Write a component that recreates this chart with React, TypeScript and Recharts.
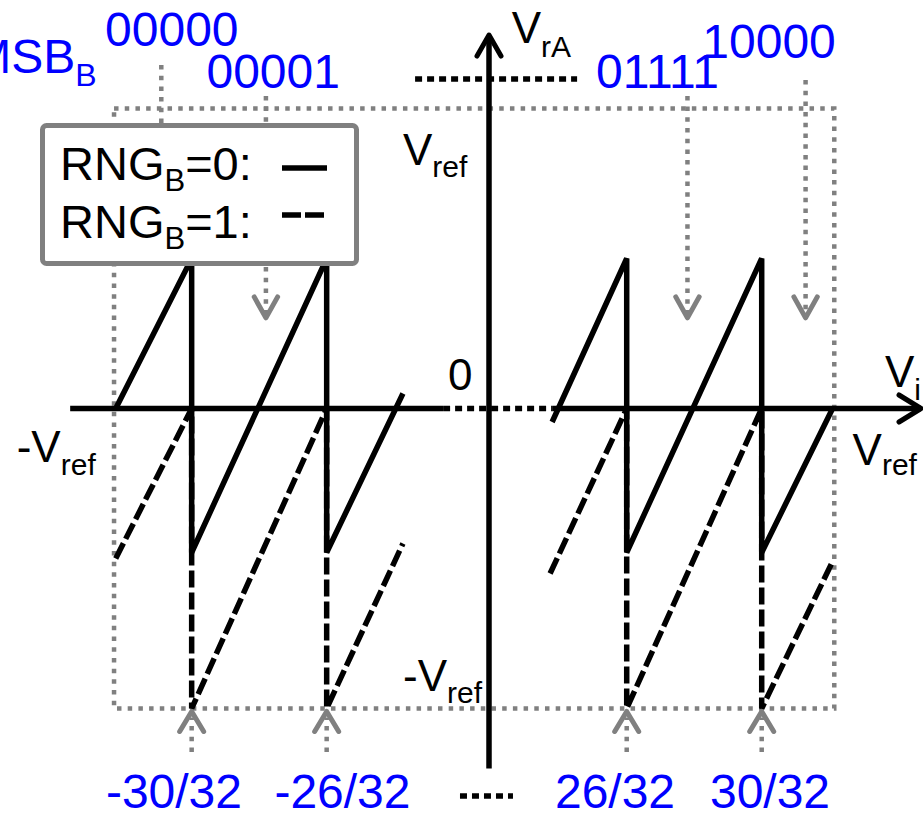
import React from "react";
import {
  ComposedChart,
  Line,
  XAxis,
  YAxis,
  ReferenceLine,
  ReferenceDot,
  ReferenceArea,
  Legend,
} from "recharts";

// x: input Vi in units of Vref/32, y: residue VrA in units of Vref
const rng0Left = [
  { x: -32.25, y: 0 },
  { x: -30, y: 0.5 },
  { x: -30, y: -0.48 },
  { x: -26, y: 0.5 },
  { x: -26, y: -0.48 },
  { x: -23.74, y: 0.05 },
];
const rng0Right = [
  { x: 23.79, y: -0.045 },
  { x: 26, y: 0.5 },
  { x: 26, y: -0.48 },
  { x: 30, y: 0.5 },
  { x: 30, y: -0.48 },
  { x: 32.1, y: 0 },
];
const rng1Left = [
  { x: -32.25, y: -0.5 },
  { x: -30, y: 0 },
  { x: -30, y: -1 },
  { x: -26, y: 0 },
  { x: -26, y: -1 },
  { x: -23.74, y: -0.45 },
];
const rng1Right = [
  { x: 23.73, y: -0.55 },
  { x: 26, y: 0 },
  { x: 26, y: -1 },
  { x: 30, y: 0 },
  { x: 30, y: -1 },
  { x: 32.1, y: -0.51 },
];

// MSB codes pointed at from above
const codeWords = ["00000", "00001", "01111", "10000"];
const codeX = [-30.9, -27.8, 27.8, 31.3];
const codeTop = [1.145, 1.042, 1.042, 1.095];
const codeEnd = [0.55, 0.302, 0.302, 0.302];

// decision thresholds pointed at from below
const thresholdLabels = ["-30/32", "-26/32", "26/32", "30/32"];
const thresholdX = [-30, -26, 26, 30];

const legendRows = [
  { code: "0", dash: undefined as string | undefined },
  { code: "1", dash: "19 4" },
];

// the Vi axis is broken between the two ends; each side is slid toward the origin
const GAP_LEFT = 21.19;
const GAP_RIGHT = 21.92;
const fold = (x: number) => (x < 0 ? x + GAP_LEFT : x > 0 ? x - GAP_RIGHT : 0);
const toPlot = (pts: { x: number; y: number }[]) => pts.map((p) => ({ x: fold(p.x), y: p.y }));

const W = 923;
const H = 817;
const FONT = '"Liberation Sans", Arial, Helvetica, sans-serif';
const BLUE = "#0000ff";
const GRAY = "#808080";
const GRAY_W = 4.5;
const GRAY_DOT = "4.5 6.2";
const BLACK_DOT = "7 5";
const LINE_W = 5.5;

type Dir = "up" | "down" | "right";

const chevron = (dir: Dir, color: string, half: number, len: number) => (p: any) => {
  const { cx, cy } = p;
  let d = "";
  if (dir === "down") d = `M${cx - half},${cy - len} L${cx},${cy} L${cx + half},${cy - len}`;
  if (dir === "up") d = `M${cx - half},${cy + len} L${cx},${cy} L${cx + half},${cy + len}`;
  if (dir === "right") d = `M${cx - len},${cy - half} L${cx},${cy} L${cx - len},${cy + half}`;
  return (
    <path d={d} fill="none" stroke={color} strokeWidth={5} strokeLinecap="round" strokeLinejoin="round" />
  );
};

type Tag = {
  at: [number, number];
  text: string;
  sub?: string;
  dx: number;
  dy: number;
  subDy?: number;
  color?: string;
  size?: number;
  subSize?: number;
  anchor?: "start" | "middle" | "end";
};

const tagShape = (t: Tag) => (p: any) => (
  <text
    x={p.cx + t.dx}
    y={p.cy + t.dy}
    fill={t.color ?? "#000"}
    fontSize={t.size ?? 44}
    fontFamily={FONT}
    textAnchor={t.anchor ?? "start"}
  >
    {t.text}
    {t.sub && (
      <tspan fontSize={t.subSize ?? 30} dy={t.subDy ?? 12}>
        {t.sub}
      </tspan>
    )}
  </text>
);

const axisTags: Tag[] = [
  { at: [0, 1.245], text: "V", sub: "rA", dx: 22.7, dy: 8.3, subDy: 14 },
  { at: [0, 1], text: "V", sub: "ref", dx: -86, dy: 56.5, subDy: 11.7 },
  { at: [0, 0], text: "0", dx: -41, dy: -18.5 },
  { at: [-32.25, 0], text: "-V", sub: "ref", dx: -99, dy: 53.5, subDy: 13 },
  { at: [34.72, 0], text: "V", sub: "i", dx: -36, dy: -21.5, subDy: 13 },
  { at: [32.1, 0], text: "V", sub: "ref", dx: 20, dy: 56.5, subDy: 10 },
  { at: [0, -1], text: "-V", sub: "ref", dx: -86, dy: -17, subDy: 11.5 },
];

// label nudges (px) relative to the pointer ends
const codeNudge = [
  [10.5, -19],
  [7.3, -7.7],
  [-30, -7.7],
  [-36.5, -21.7],
];
const thresholdNudge = [-17.7, 15.8, -11.7, 8.3];

const LegendBox = () => (
  <svg width={319} height={143} style={{ display: "block" }}>
    <rect x={2.5} y={2.5} width={314} height={138} rx={4} fill="#fff" stroke={GRAY} strokeWidth={5} />
    {legendRows.map((row, i) => (
      <g key={row.code}>
        <text x={20} y={57 + i * 58} fontSize={47} fontFamily={FONT} fill="#000">
          RNG
          <tspan fontSize={31} dy={11}>
            B
          </tspan>
          <tspan dy={-11}>{`=${row.code}:`}</tspan>
        </text>
        <line
          x1={242}
          x2={row.dash ? 285 : 287}
          y1={45 + i * 47}
          y2={45 + i * 47}
          stroke="#000"
          strokeWidth={LINE_W}
          strokeDasharray={row.dash}
        />
      </g>
    ))}
  </svg>
);

export default function App() {
  return (
    <div style={{ position: "absolute", left: 0, top: 0, background: "#fff" }}>
      <ComposedChart width={W} height={H} margin={{ top: 0, right: 0, bottom: 0, left: 0 }}>
        <XAxis type="number" dataKey="x" hide domain={[-14.489, 12.859]} allowDataOverflow />
        <YAxis type="number" dataKey="y" hide domain={[-1.3617, 1.3617]} allowDataOverflow />

        {/* dotted full-scale box, ±Vref */}
        <ReferenceArea
          x1={fold(-32.3)}
          x2={fold(32.15)}
          y1={-1}
          y2={1}
          fill="none"
          stroke={GRAY}
          strokeWidth={GRAY_W}
          strokeDasharray={GRAY_DOT}
          ifOverflow="visible"
        />

        {/* code pointers */}
        {codeX.map((x, i) => (
          <ReferenceLine
            key={`code-${i}`}
            segment={[
              { x: fold(x), y: codeTop[i] },
              { x: fold(x), y: codeEnd[i] },
            ]}
            stroke={GRAY}
            strokeWidth={GRAY_W}
            strokeDasharray={GRAY_DOT}
            ifOverflow="visible"
          />
        ))}
        {codeX.map((x, i) => (
          <ReferenceDot
            key={`code-arrow-${i}`}
            x={fold(x)}
            y={codeEnd[i]}
            ifOverflow="visible"
            shape={chevron("down", GRAY, 11.7, 21)}
          />
        ))}

        {/* threshold pointers */}
        {thresholdX.map((x, i) => (
          <ReferenceLine
            key={`thr-${i}`}
            segment={[
              { x: fold(x), y: -1.145 },
              { x: fold(x), y: -1.03 },
            ]}
            stroke={GRAY}
            strokeWidth={GRAY_W}
            strokeDasharray={GRAY_DOT}
            ifOverflow="visible"
          />
        ))}
        {thresholdX.map((x, i) => (
          <ReferenceDot
            key={`thr-arrow-${i}`}
            x={fold(x)}
            y={-1.01}
            ifOverflow="visible"
            shape={chevron("up", GRAY, 12, 20)}
          />
        ))}

        {/* axes */}
        <ReferenceLine
          segment={[
            { x: fold(-33.6), y: 0 },
            { x: fold(-22.55), y: 0 },
          ]}
          stroke="#000"
          strokeWidth={LINE_W}
          ifOverflow="visible"
        />
        <ReferenceLine
          segment={[
            { x: fold(-22.55), y: 0 },
            { x: fold(23.79), y: 0 },
          ]}
          stroke="#000"
          strokeWidth={LINE_W}
          strokeDasharray={BLACK_DOT}
          ifOverflow="visible"
        />
        <ReferenceLine
          segment={[
            { x: fold(23.79), y: 0 },
            { x: fold(34.72), y: 0 },
          ]}
          stroke="#000"
          strokeWidth={LINE_W}
          ifOverflow="visible"
        />
        <ReferenceDot x={fold(34.72)} y={0} ifOverflow="visible" shape={chevron("right", "#000", 13.5, 22)} />
        <ReferenceLine
          segment={[
            { x: 0, y: -1.2 },
            { x: 0, y: 1.245 },
          ]}
          stroke="#000"
          strokeWidth={LINE_W}
          ifOverflow="visible"
        />
        <ReferenceDot x={0} y={1.245} ifOverflow="visible" shape={chevron("up", "#000", 12, 21)} />

        {/* break marks between the code labels and between the threshold labels */}
        <ReferenceLine
          segment={[
            { x: fold(-23.38), y: 1.098 },
            { x: fold(24.53), y: 1.098 },
          ]}
          stroke="#000"
          strokeWidth={LINE_W}
          strokeDasharray={BLACK_DOT}
          ifOverflow="visible"
        />
        <ReferenceLine
          segment={[
            { x: fold(-22.05), y: -1.292 },
            { x: fold(22.63), y: -1.292 },
          ]}
          stroke="#000"
          strokeWidth={LINE_W}
          strokeDasharray={BLACK_DOT}
          ifOverflow="visible"
        />

        {/* residue transfer curves */}
        <Line data={toPlot(rng1Left)} dataKey="y" name="RNG_B=1" stroke="#000" strokeWidth={LINE_W} strokeDasharray="17 5" dot={false} activeDot={false} isAnimationActive={false} legendType="none" />
        <Line data={toPlot(rng1Right)} dataKey="y" name="RNG_B=1 " stroke="#000" strokeWidth={LINE_W} strokeDasharray="17 5" dot={false} activeDot={false} isAnimationActive={false} legendType="none" />
        <Line data={toPlot(rng0Left)} dataKey="y" name="RNG_B=0" stroke="#000" strokeWidth={LINE_W} dot={false} activeDot={false} isAnimationActive={false} legendType="none" />
        <Line data={toPlot(rng0Right)} dataKey="y" name="RNG_B=0 " stroke="#000" strokeWidth={LINE_W} dot={false} activeDot={false} isAnimationActive={false} legendType="none" />

        {/* text */}
        {axisTags.map((t, i) => (
          <ReferenceDot key={`tag-${i}`} x={fold(t.at[0])} y={t.at[1]} ifOverflow="visible" shape={tagShape(t)} />
        ))}
        <ReferenceDot
          x={fold(codeX[0])}
          y={codeTop[0]}
          ifOverflow="visible"
          shape={tagShape({
            at: [codeX[0], codeTop[0]],
            text: "MSB",
            sub: "B",
            dx: -190,
            dy: 8,
            subDy: 13,
            color: BLUE,
            size: 48,
            subSize: 32,
          })}
        />
        {codeWords.map((w, i) => (
          <ReferenceDot
            key={`word-${i}`}
            x={fold(codeX[i])}
            y={codeTop[i]}
            ifOverflow="visible"
            shape={tagShape({
              at: [codeX[i], codeTop[i]],
              text: w,
              dx: codeNudge[i][0],
              dy: codeNudge[i][1],
              color: BLUE,
              size: 48,
              anchor: "middle",
            })}
          />
        ))}
        {thresholdLabels.map((s, i) => (
          <ReferenceDot
            key={`thr-label-${i}`}
            x={fold(thresholdX[i])}
            y={-1.145}
            ifOverflow="visible"
            shape={tagShape({
              at: [thresholdX[i], -1.145],
              text: s,
              dx: thresholdNudge[i],
              dy: 56,
              color: BLUE,
              size: 48,
              anchor: "middle",
            })}
          />
        ))}

        <Legend
          layout="horizontal"
          verticalAlign="middle"
          align="center"
          wrapperStyle={{ left: 40, top: 123, width: 319, height: 143 }}
          content={() => <LegendBox />}
        />
      </ComposedChart>
    </div>
  );
}
